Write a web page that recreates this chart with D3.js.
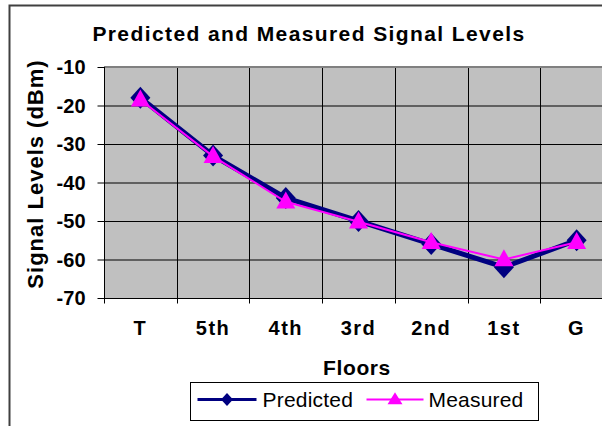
<!DOCTYPE html>
<html>
<head>
<meta charset="utf-8">
<script src="https://cdn.jsdelivr.net/npm/d3@7"></script>
<style>
  body { margin: 0; background: #fff; }
  svg { display: block; font-family: "Liberation Sans", Arial, sans-serif; }
  .tick-label { font-weight: bold; font-size: 20px; fill: #000; }
</style>
</head>
<body>
<svg id="chart" width="602" height="426"></svg>
<script>
const floors = ["T", "5th", "4th", "3rd", "2nd", "1st", "G"];
const predicted = [-18, -33, -44, -50, -56, -62, -55];
const measured = [-18.5, -33.2, -45, -50.2, -55.5, -60, -55.5];
const yTicks = [-10, -20, -30, -40, -50, -60, -70];

const svg = d3.select("#chart");
const plot = { left: 104, top: 67, width: 509, height: 231 };

const x = d3.scaleBand().domain(floors).range([plot.left, plot.left + plot.width]);
const y = d3.scaleLinear().domain([-70, -10]).range([plot.top + plot.height, plot.top]);

// outer chart border (runs off the right and bottom of the picture)
svg.append("rect")
  .attr("x", 9.5).attr("y", 5.5)
  .attr("width", 700).attr("height", 500)
  .attr("fill", "none").attr("stroke", "#404040").attr("stroke-width", 2);

// title
svg.append("text")
  .attr("x", 309).attr("y", 41)
  .attr("text-anchor", "middle")
  .attr("font-size", 21).attr("font-weight", "bold")
  .attr("letter-spacing", 1.4)
  .text("Predicted and Measured Signal Levels");

// plot background
svg.append("rect")
  .attr("x", plot.left).attr("y", plot.top)
  .attr("width", plot.width).attr("height", plot.height)
  .attr("fill", "#c0c0c0");

// horizontal grid
svg.append("g")
  .selectAll("line")
  .data(yTicks.slice(1, -1))
  .join("line")
  .attr("x1", plot.left).attr("x2", plot.left + plot.width)
  .attr("y1", (d) => y(d) + 0.5).attr("y2", (d) => y(d) + 0.5)
  .attr("stroke", "#000");

// vertical grid at category boundaries
svg.append("g")
  .selectAll("line")
  .data(floors.slice(1))
  .join("line")
  .attr("x1", (d) => Math.round(x(d)) + 0.5).attr("x2", (d) => Math.round(x(d)) + 0.5)
  .attr("y1", plot.top).attr("y2", plot.top + plot.height)
  .attr("stroke", "#000");

// top border of plot area
svg.append("line")
  .attr("x1", plot.left).attr("x2", plot.left + plot.width)
  .attr("y1", plot.top).attr("y2", plot.top)
  .attr("stroke", "#808080").attr("stroke-width", 2);

// y axis
const yAxis = svg.append("g").attr("transform", `translate(${plot.left + 0.5},0)`);
yAxis.append("line")
  .attr("y1", plot.top).attr("y2", plot.top + plot.height)
  .attr("stroke", "#000");
yAxis.selectAll("line.tk")
  .data(yTicks)
  .join("line")
  .attr("class", "tk")
  .attr("x1", -7).attr("x2", 0)
  .attr("y1", (d) => y(d) + 0.5).attr("y2", (d) => y(d) + 0.5)
  .attr("stroke", "#000");
yAxis.selectAll("text")
  .data(yTicks)
  .join("text")
  .attr("class", "tick-label")
  .attr("x", -19)
  .attr("y", (d) => y(d))
  .attr("dy", "0.36em")
  .attr("text-anchor", "end")
  .text((d) => d);

// x axis
const xAxis = svg.append("g").attr("transform", `translate(0,${plot.top + plot.height + 0.5})`);
xAxis.append("line")
  .attr("x1", plot.left).attr("x2", plot.left + plot.width)
  .attr("stroke", "#000");
xAxis.selectAll("line.tk")
  .data(floors)
  .join("line")
  .attr("class", "tk")
  .attr("x1", (d) => Math.round(x(d)) + 0.5).attr("x2", (d) => Math.round(x(d)) + 0.5)
  .attr("y1", 0).attr("y2", 5)
  .attr("stroke", "#000");
xAxis.selectAll("text")
  .data(floors)
  .join("text")
  .attr("class", "tick-label")
  .attr("x", (d) => x(d) + x.bandwidth() / 2)
  .attr("y", 29)
  .attr("dy", "0.36em")
  .attr("text-anchor", "middle")
  .attr("letter-spacing", 1.5)
  .text((d) => d);

// axis titles
svg.append("text")
  .attr("x", 357).attr("y", 367)
  .attr("dy", "0.36em")
  .attr("text-anchor", "middle")
  .attr("font-size", 21).attr("font-weight", "bold")
  .attr("letter-spacing", 0.6)
  .text("Floors");

svg.append("text")
  .attr("transform", "translate(35,174) rotate(-90)")
  .attr("dy", "0.36em")
  .attr("text-anchor", "middle")
  .attr("font-size", 22).attr("font-weight", "bold")
  .attr("letter-spacing", 1)
  .text("Signal Levels (dBm)");

// series
const cx = (i) => x(floors[i]) + x.bandwidth() / 2;
const line = d3.line().x((d, i) => cx(i)).y((d) => y(d));

const diamond = (s) => `M0,${-s * 1.1}L${s},0L0,${s * 1.1}L${-s},0Z`;
const triangle = (w, h) => `M0,${-h * 0.6}L${w / 2},${h * 0.4}L${-w / 2},${h * 0.4}Z`;

svg.append("path")
  .datum(predicted)
  .attr("d", line)
  .attr("fill", "none").attr("stroke", "#000080").attr("stroke-width", 5)
  .attr("stroke-linejoin", "round");

svg.append("g")
  .selectAll("path")
  .data(predicted)
  .join("path")
  .attr("transform", (d, i) => `translate(${cx(i)},${y(d)})`)
  .attr("d", diamond(10))
  .attr("fill", "#000080");

svg.append("path")
  .datum(measured)
  .attr("d", line)
  .attr("fill", "none").attr("stroke", "#ff00ff").attr("stroke-width", 2);

svg.append("g")
  .selectAll("path")
  .data(measured)
  .join("path")
  .attr("transform", (d, i) => `translate(${cx(i)},${y(d)})`)
  .attr("d", triangle(19, 17))
  .attr("fill", "#ff00ff");

// legend
const legend = svg.append("g").attr("transform", "translate(190.5,382.5)");
legend.append("rect")
  .attr("width", 348).attr("height", 38)
  .attr("fill", "#fff").attr("stroke", "#000");

const items = [
  { name: "Predicted", color: "#000080", width: 3, x1: 7, marker: diamond(6) },
  { name: "Measured", color: "#ff00ff", width: 2, x1: 176, marker: triangle(15, 12) }
];
const li = legend.selectAll("g.item").data(items).join("g").attr("class", "item")
  .attr("transform", (d) => `translate(${d.x1},17)`);
li.append("line")
  .attr("x2", (d, i) => (i === 0 ? 59 : 57))
  .attr("stroke", (d) => d.color).attr("stroke-width", (d) => d.width);
li.append("path")
  .attr("transform", (d, i) => `translate(${i === 0 ? 29.5 : 28.5},0)`)
  .attr("d", (d) => d.marker)
  .attr("fill", (d) => d.color);
li.append("text")
  .attr("x", (d, i) => (i === 0 ? 65 : 62))
  .attr("dy", "0.36em")
  .attr("font-size", 21).attr("letter-spacing", 0.2)
  .text((d) => d.name);
</script>
</body>
</html>
